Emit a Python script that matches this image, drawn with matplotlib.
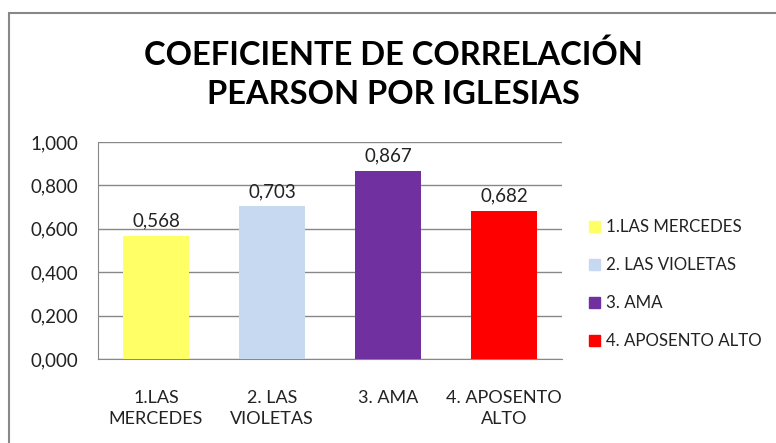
import matplotlib.pyplot as plt
from matplotlib.patches import Rectangle, Patch
from matplotlib.ticker import FuncFormatter

categories = ["1.LAS\nMERCEDES", "2. LAS\nVIOLETAS", "3. AMA", "4. APOSENTO\nALTO"]
legend_labels = ["1.LAS MERCEDES", "2. LAS VIOLETAS", "3. AMA", "4. APOSENTO ALTO"]
values = [0.568, 0.703, 0.867, 0.682]
colors = ["#FFFF66", "#C6D9F1", "#7030A0", "#FF0000"]

plt.rcParams['font.family'] = ['Lato', 'DejaVu Sans']

fig = plt.figure(figsize=(7.76, 4.43), dpi=100)
ax = fig.add_axes([0.1263, 0.1896, 0.598, 0.4899])

x = range(len(values))
bars = ax.bar(x, values, width=0.57, color=colors, zorder=3)
for b, v in zip(bars, values):
    ax.text(b.get_x() + b.get_width() / 2, v + 0.03, f"{v:.3f}".replace(".", ","),
            ha='center', va='bottom', fontsize=13.5, color='#222222')

ax.set_xlim(-0.5, len(values) - 0.5)
ax.set_ylim(0, 1.0)
ax.set_yticks([0, 0.2, 0.4, 0.6, 0.8, 1.0])
ax.yaxis.set_major_formatter(FuncFormatter(lambda v, p: f"{v:.3f}".replace(".", ",")))
ax.set_xticks(list(x))
ax.set_xticklabels(categories, fontsize=13, color='#222222', linespacing=1.45)
ax.tick_params(axis='y', labelsize=13.5, colors='#222222', length=0, pad=14)
ax.tick_params(axis='x', length=0, pad=22)
ax.grid(axis='y', color='#888888', linewidth=1, zorder=0)
for s in ['top', 'right']:
    ax.spines[s].set_visible(False)
ax.spines['left'].set_color('#888888')
ax.spines['bottom'].set_color('#888888')

handles = [Patch(color=c) for c in colors]
fig.legend(handles, legend_labels, loc='center left', bbox_to_anchor=(0.74, 0.358),
           frameon=False, fontsize=12.2, handlelength=0.6, handleheight=0.6,
           handletextpad=0.35, labelspacing=1.3, labelcolor='#222222')

fig.text(0.507, 0.833, "COEFICIENTE DE CORRELACIÓN\nPEARSON POR IGLESIAS",
         ha='center', va='center', fontsize=23.5, fontweight='bold', linespacing=1.4)

fig.patches.append(Rectangle((8.5 / 776, -0.05), 1.2, 1 - 13 / 443 + 0.05, transform=fig.transFigure,
                             fill=False, edgecolor='#888888', linewidth=1.5))

fig.savefig("out.png", dpi=100)
